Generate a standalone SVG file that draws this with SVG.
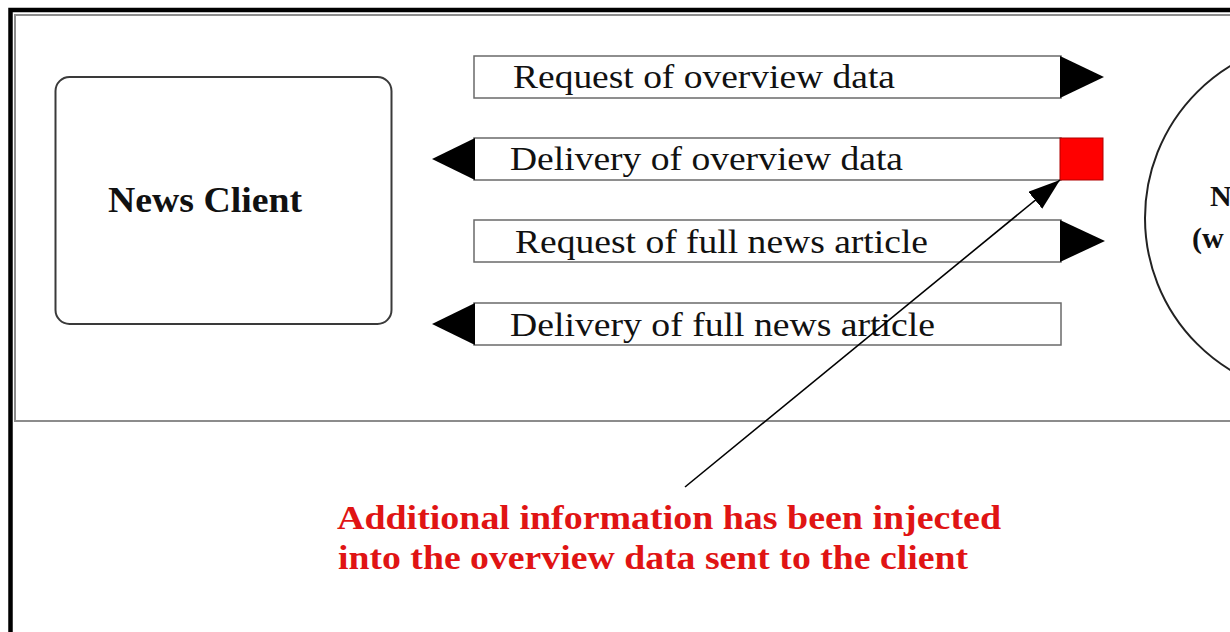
<svg xmlns="http://www.w3.org/2000/svg" width="1230" height="632" viewBox="0 0 1230 632">
  <style>
    .bar { fill: #ffffff; stroke: #6a6a6a; stroke-width: 1.5; }
    .head { fill: #000000; }
    .lbl { font-family: "Liberation Serif", "Times New Roman", serif; font-size: 33px; fill: #111111; }
    .bold { font-family: "Liberation Serif", "Times New Roman", serif; font-weight: bold; fill: #111111; }
    .red { font-family: "Liberation Serif", "Times New Roman", serif; font-weight: bold; font-size: 34px; fill: #e01414; }
  </style>
  <defs>
    <marker id="ptr" markerUnits="userSpaceOnUse" markerWidth="34" markerHeight="24" refX="32" refY="11" orient="auto">
      <path d="M0,0 L32,11 L0,22 Z" fill="#000000"/>
    </marker>
  </defs>
  <rect x="0" y="0" width="1230" height="632" fill="#ffffff"/>
  <!-- outer frames -->
  <rect x="10.5" y="10" width="1240" height="650" fill="none" stroke="#000000" stroke-width="4.5"/>
  <rect x="15" y="15" width="1240" height="406" fill="none" stroke="#8c8c8c" stroke-width="2"/>

  <g id="news-client">
    <rect x="55.5" y="77" width="336" height="247" rx="14" ry="14" fill="#ffffff" stroke="#3a3a3a" stroke-width="2"/>
    <text class="bold" x="108" y="212" font-size="35" textLength="194" lengthAdjust="spacingAndGlyphs">News Client</text>
  </g>

  <g id="news-server">
    <circle cx="1323" cy="218" r="178" fill="#ffffff" stroke="#222222" stroke-width="2"/>
    <text class="bold" x="1210" y="206" font-size="30">N</text>
    <text class="bold" x="1192" y="248" font-size="30">(w</text>
  </g>

  <g id="connectors">
    <g id="msg-request-overview">
      <rect class="bar" x="474" y="56" width="587" height="42"/>
      <polygon class="head" points="1060,56 1104,77 1060,98"/>
      <text class="lbl" x="513" y="88" textLength="382" lengthAdjust="spacingAndGlyphs">Request of overview data</text>
    </g>
    <g id="msg-delivery-overview">
      <rect class="bar" x="474" y="138" width="587" height="42"/>
      <polygon class="head" points="475,138 432,159 475,180"/>
      <rect x="1060" y="138" width="43" height="42" fill="#ff0000" stroke="#b00000" stroke-width="1"/>
      <text class="lbl" x="510" y="170" textLength="393" lengthAdjust="spacingAndGlyphs">Delivery of overview data</text>
    </g>
    <g id="msg-request-article">
      <rect class="bar" x="474" y="220" width="587" height="42"/>
      <polygon class="head" points="1060,220 1105,241 1060,262"/>
      <text class="lbl" x="515" y="253" textLength="413" lengthAdjust="spacingAndGlyphs">Request of full news article</text>
    </g>
    <g id="msg-delivery-article">
      <rect class="bar" x="474" y="303" width="587" height="42"/>
      <polygon class="head" points="475,303 432,324 475,345"/>
      <text class="lbl" x="510" y="336" textLength="425" lengthAdjust="spacingAndGlyphs">Delivery of full news article</text>
    </g>
    <line id="pointer" x1="685" y1="487" x2="1060" y2="180" stroke="#000000" stroke-width="1.6" marker-end="url(#ptr)"/>
  </g>

  <g id="annotation">
    <text class="red" x="337" y="529" textLength="664" lengthAdjust="spacingAndGlyphs">Additional  information has been injected</text>
    <text class="red" x="338" y="569" textLength="630" lengthAdjust="spacingAndGlyphs">into the overview data sent to the client</text>
  </g>
</svg>
